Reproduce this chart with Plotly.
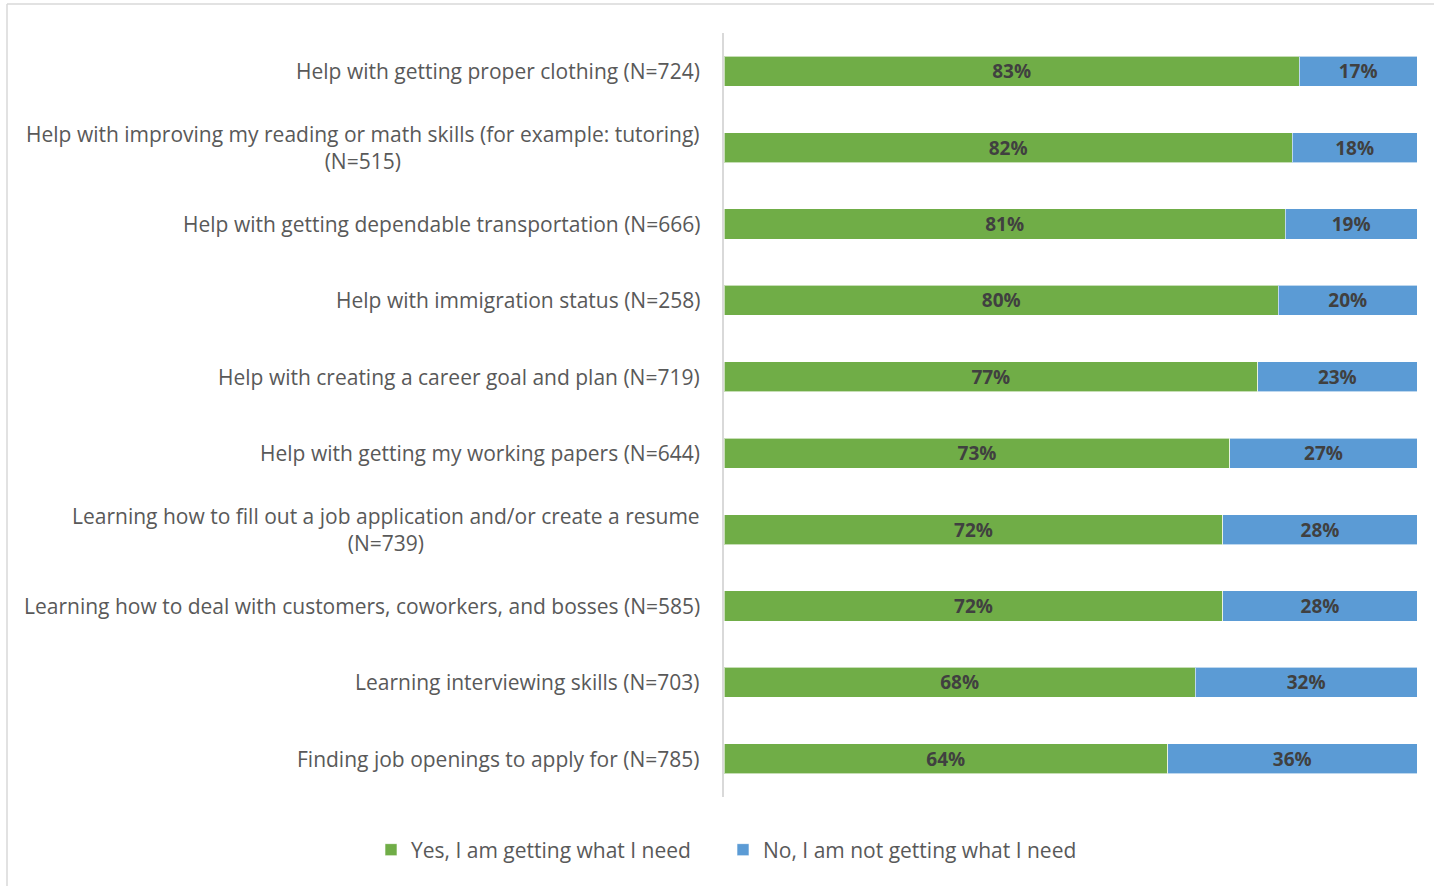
import plotly.graph_objects as go

categories = [
    "Help with getting proper clothing (N=724)",
    "Help with improving my reading or math skills (for example: tutoring)<br>(N=515)",
    "Help with getting dependable transportation (N=666)",
    "Help with immigration status (N=258)",
    "Help with creating a career goal and plan (N=719)",
    "Help with getting my working papers (N=644)",
    "Learning how to fill out a job application and/or create a resume<br>(N=739)",
    "Learning how to deal with customers, coworkers, and bosses (N=585)",
    "Learning interviewing skills (N=703)",
    "Finding job openings to apply for (N=785)",
]
yes_pct = [83, 82, 81, 80, 77, 73, 72, 72, 68, 64]
no_pct = [17, 18, 19, 20, 23, 27, 28, 28, 32, 36]
series_names = ["Yes, I am getting what I need", "No, I am not getting what I need"]

GREEN = "#70AD47"
BLUE = "#5B9BD5"
FONT = "Open Sans"

fig = go.Figure()
for name, vals, color, leg in [(series_names[0], yes_pct, GREEN, "legend"),
                               (series_names[1], no_pct, BLUE, "legend2")]:
    fig.add_trace(go.Bar(
        y=categories,
        x=[v / 100 for v in vals],
        name=name,
        orientation="h",
        legend=leg,
        marker=dict(color=color, line=dict(color="rgba(255,255,255,0.6)", width=1)),
        text=[f"{v}%" for v in vals],
        textposition="inside",
        insidetextanchor="middle",
        textangle=0,
        constraintext="none",
        textfont=dict(family=FONT, size=19, color="#404040", weight="bold"),
        hoverinfo="skip",
    ))

# category labels, centred line-by-line and right-aligned against the axis
for cat in categories:
    fig.add_annotation(
        x=0, xref="paper", y=cat, yref="y",
        text=cat, showarrow=False,
        xanchor="right", yanchor="middle", xshift=-22,
        align="center",
        font=dict(family=FONT, size=21, color="#595959"),
    )

# chart frame (left and top edges)
fig.add_shape(type="line", xref="paper", yref="paper",
              x0=(7 - 724) / 693, x1=(7 - 724) / 693, y0=-0.2, y1=(797 - 4) / 764,
              line=dict(color="#D9D9D9", width=1.5))
fig.add_shape(type="line", xref="paper", yref="paper",
              x0=(7 - 724) / 693, x1=1.1, y0=(797 - 4) / 764, y1=(797 - 4) / 764,
              line=dict(color="#D9D9D9", width=1.5))

legend_style = dict(
    orientation="h",
    y=-53 / 764, yanchor="middle",
    font=dict(family=FONT, size=21, color="#595959"),
    itemwidth=30,
    bgcolor="rgba(0,0,0,0)",
)

fig.update_layout(
    width=1434, height=886,
    margin=dict(l=724, r=17, t=33, b=89, autoexpand=False),
    barmode="stack",
    bargap=0.605,
    plot_bgcolor="white",
    paper_bgcolor="white",
    font=dict(family=FONT, color="#595959"),
    xaxis=dict(range=[0, 1], visible=False, fixedrange=True),
    yaxis=dict(
        autorange="reversed",
        showticklabels=False,
        showline=True, linecolor="#D9D9D9", linewidth=1.5,
        ticks="", showgrid=False, zeroline=False,
    ),
    legend=dict(x=(371 - 724) / 693, xanchor="left", **legend_style),
    legend2=dict(x=(723 - 724) / 693, xanchor="left", **legend_style),
    showlegend=True,
)

fig.write_html("out.html")
